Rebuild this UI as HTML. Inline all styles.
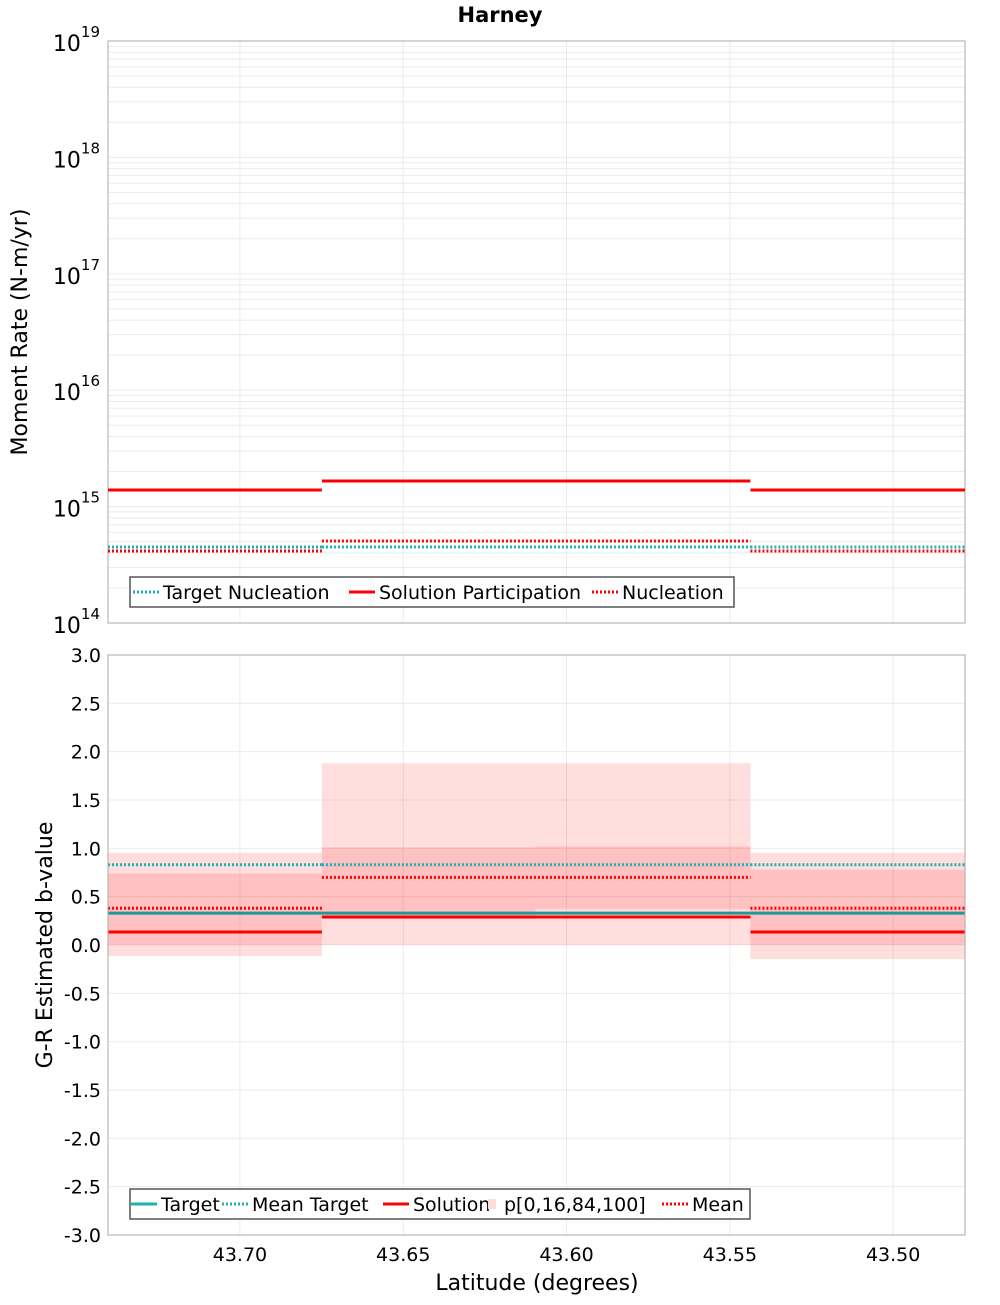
<!DOCTYPE html>
<html><head><meta charset="utf-8"><style>
body{margin:0;background:#fff;width:1000px;height:1300px;overflow:hidden}
svg{font-family:"DejaVu Sans","Liberation Sans",sans-serif}
</style></head><body>
<svg id="chart" width="1000" height="1300" xmlns="http://www.w3.org/2000/svg"></svg>
<script>
const segLat = [[43.7404,43.6749],[43.6749,43.5437],[43.5437,43.478]];
const bandLat = [[43.7404,43.6749],[43.6749,43.6095],[43.6095,43.5437],[43.5437,43.478]];
const xTicks = [43.70,43.65,43.60,43.55,43.50];
const xTickLabels = ["43.70","43.65","43.60","43.55","43.50"];
const targetNucleation = [4.5e14,4.5e14,4.5e14];
const solutionParticipation = [1.39e15,1.66e15,1.39e15];
const nucleation = [4.16e14,5.06e14,4.16e14];
const bTarget = [0.33,0.33,0.33];
const bMeanTarget = [0.83,0.83,0.83];
const bSolution = [0.135,0.29,0.135];
const bMean = [0.38,0.70,0.38];
const p0 = [-0.115,0.0,0.0,-0.145];
const p16 = [0.0,0.27,0.37,0.0];
const p84 = [0.74,1.01,1.02,0.78];
const p100 = [0.955,1.88,1.88,0.955];
const bTicks = [3,2.5,2,1.5,1,0.5,0,-0.5,-1,-1.5,-2,-2.5,-3];

const svg=document.getElementById('chart');
const NS='http://www.w3.org/2000/svg';
function el(t,a,parent){const e=document.createElementNS(NS,t);for(const k in a)e.setAttribute(k,a[k]);(parent||svg).appendChild(e);return e;}
const X0=108,X1=965,LAT0=43.7404,LAT1=43.478;
const xs=v=>X0+(LAT0-v)/(LAT0-LAT1)*(X1-X0);
const T0=41,T1=623;
const ys1=v=>T1-(Math.log10(v)-14)/5*(T1-T0);
const B0=655,B1=1235;
const ys2=v=>B1-(v+3)/6*(B1-B0);

// title
let t=el('text',{x:500,y:22,'text-anchor':'middle','font-size':21,'font-weight':'bold'});t.textContent='Harney';



// top grid
for(let d=14;d<19;d++){for(let m=1;m<10;m++){const y=ys1(m*Math.pow(10,d));const g=el('line',{x1:X0,x2:X1,y1:y,y2:y,stroke:'#ebebeb','stroke-width':1});

}}
for(const v of xTicks){const g=el('line',{x1:xs(v),x2:xs(v),y1:T0,y2:T1,stroke:'#ebebeb'});

}
for(let d=14;d<=19;d++){const y=ys1(Math.pow(10,d));const tx=el('text',{x:100,y:y+10,'text-anchor':'end','font-size':22});tx.innerHTML='10<tspan dy="-14" font-size="15">'+d+'</tspan>';

}
let r=el('rect',{x:X0,y:T0,width:X1-X0,height:T1-T0,fill:'none',stroke:'#aaa'});


t=el('text',{transform:'translate(27,332) rotate(-90)','text-anchor':'middle','font-size':22});t.textContent='Moment Rate (N-m/yr)';



function segLines(arr,ys,color,dash,w,name){arr.forEach((v,i)=>{const a={x1:xs(segLat[i][0]),x2:xs(segLat[i][1]),y1:ys(v),y2:ys(v),stroke:color,'stroke-width':w};if(dash)a['stroke-dasharray']=dash;const l=el('line',a);

});}
segLines(targetNucleation,ys1,'#1ab3b3','2,2',3,'target-nucleation-line');
segLines(solutionParticipation,ys1,'#ff0000',null,3,'solution-participation-line');
segLines(nucleation,ys1,'#ff0000','2,2',3,'nucleation-line');

// bottom grid
for(const v of bTicks){const y=ys2(v);const g=el('line',{x1:X0,x2:X1,y1:y,y2:y,stroke:'#ebebeb'});


const tx=el('text',{x:101,y:y+7,'text-anchor':'end','font-size':19});tx.textContent=v.toFixed(1);

}
xTicks.forEach((v,i)=>{const g=el('line',{x1:xs(v),x2:xs(v),y1:B0,y2:B1,stroke:'#ebebeb'});


const tx=el('text',{x:xs(v),y:1261,'text-anchor':'middle','font-size':19});tx.textContent=xTickLabels[i];

});
// bands
bandLat.forEach((s,i)=>{const x=xs(s[0]),w=xs(s[1])-x;
const o=el('rect',{x:x,y:ys2(p100[i]),width:w,height:ys2(p0[i])-ys2(p100[i]),fill:'#ff0000','fill-opacity':0.13});


const n=el('rect',{x:x,y:ys2(p84[i]),width:w,height:ys2(p16[i])-ys2(p84[i]),fill:'#ff0000','fill-opacity':0.13});

});
segLines(bMeanTarget,ys2,'#1ab3b3','2,2',3,'mean-target-line');
segLines(bTarget,ys2,'#1a9999',null,3,'target-line');
segLines(bSolution,ys2,'#ff0000',null,3,'solution-line');
segLines(bMean,ys2,'#ff0000','2,2',3,'mean-line');
r=el('rect',{x:X0,y:B0,width:X1-X0,height:B1-B0,fill:'none',stroke:'#aaa'});


t=el('text',{transform:'translate(52,945) rotate(-90)','text-anchor':'middle','font-size':22});t.textContent='G-R Estimated b-value';


t=el('text',{x:537,y:1290,'text-anchor':'middle','font-size':22});t.textContent='Latitude (degrees)';



// legends
function legend(x,y,w,items,name){const g=el('g',{});


el('rect',{x:x,y:y,width:w,height:30,fill:'#fff',stroke:'#555','stroke-width':1.5},g);
items.forEach(it=>{let a;if(it.band){a=el('rect',{x:it.x+8,y:y+10,width:8,height:10,fill:'#ffdcdc'},g);}
else{a={x1:it.x,x2:it.x+26,y1:y+15,y2:y+15,stroke:it.c,'stroke-width':3};if(it.d)a['stroke-dasharray']='2,2';el('line',a,g);}
const tx=el('text',{x:it.x+(it.band?24:30),y:y+22,'font-size':19},g);tx.textContent=it.t;});}
legend(130,577,604,[{x:133,c:'#1ab3b3',d:1,t:'Target Nucleation'},{x:349,c:'#ff0000',t:'Solution Participation'},{x:592,c:'#ff0000',d:1,t:'Nucleation'}],'top-legend');
legend(130,1189,620,[{x:131,c:'#1ab3b3',t:'Target'},{x:222,c:'#1ab3b3',d:1,t:'Mean Target'},{x:383,c:'#ff0000',t:'Solution'},{x:480,band:1,t:'p[0,16,84,100]'},{x:662,c:'#ff0000',d:1,t:'Mean'}],'bottom-legend');
</script>
</body></html>
